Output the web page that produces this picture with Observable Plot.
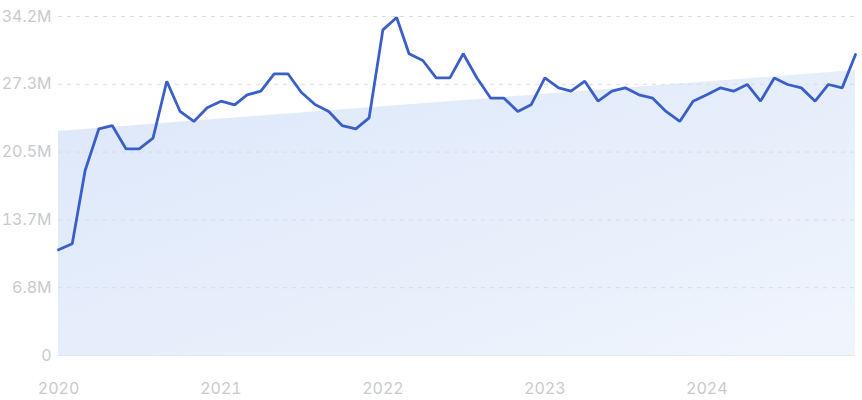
<!DOCTYPE html>
<html>
<head>
<meta charset="utf-8">
<script src="https://cdn.jsdelivr.net/npm/d3@7"></script>
<script src="https://cdn.jsdelivr.net/npm/@observablehq/plot@0.6"></script>
<style>
  html, body { margin: 0; padding: 0; background: #ffffff; }
  #chart { width: 862px; height: 400px; }
</style>
</head>
<body>
<div id="chart"></div>
<script>
// Monthly values, Jan 2020 .. Dec 2024 (millions)
const startMonth = "2020-01";
const values = [
  10.66, 11.27, 18.66, 22.87, 23.2, 20.85, 20.85, 21.93, 27.67, 24.62, 23.61, 24.99,
  25.66, 25.29, 26.3, 26.67, 28.42, 28.42, 26.56, 25.32, 24.62, 23.2, 22.87, 23.98,
  32.85, 34.1, 30.44, 29.76, 28.01, 28.01, 30.44, 28.0, 25.96, 25.96, 24.62, 25.29,
  28.0, 27.0, 26.67, 27.67, 25.66, 26.67, 27.0, 26.3, 25.96, 24.62, 23.61, 25.66,
  26.3, 27.0, 26.67, 27.34, 25.66, 28.0, 27.34, 27.0, 25.66, 27.34, 27.0, 30.37
];
// Trend band endpoints (millions), first and last month
const trendValues = [22.6, 28.75];
// Y ticks and labels
const yTickValues = [0, 6.84, 13.68, 20.52, 27.36, 34.2];
const yTickLabels = ["0", "6.8M", "13.7M", "20.5M", "27.3M", "34.2M"];
const xTickYears = [2020, 2021, 2022, 2023, 2024];

const t0 = new Date(startMonth + "-01T00:00:00Z");
const data = values.map((v, i) => ({
  date: new Date(Date.UTC(t0.getUTCFullYear(), t0.getUTCMonth() + i, 1)),
  value: v * 1e6
}));
const first = data[0].date, last = data[data.length - 1].date;
const trend = [
  {date: first, value: trendValues[0] * 1e6},
  {date: last, value: trendValues[1] * 1e6}
];
const yTicks = yTickValues.map(v => v * 1e6);
const labelMap = new Map(yTicks.map((v, i) => [v, yTickLabels[i]]));

const chart = Plot.plot({
  width: 862,
  height: 400,
  marginLeft: 58,
  marginRight: 7,
  marginTop: 16,
  marginBottom: 45,
  style: {fontFamily: "Inter, 'Noto Sans', sans-serif", fontSize: "16px", background: "#ffffff"},
  x: {type: "utc", domain: [first, last], label: null},
  y: {domain: [0, 34.2e6], label: null},
  marks: [
    Plot.areaY(trend, {x: "date", y: "value", fill: "url(#trendGrad)"}),
    Plot.ruleY(yTicks.filter(v => v > 0), {stroke: "#d9dde4", strokeDasharray: "4,5", strokeWidth: 1}),
    Plot.ruleY([0], {stroke: "#e3e7ee", strokeWidth: 1}),
    Plot.lineY(data, {x: "date", y: "value", stroke: "#3a5fc8", strokeWidth: 2.8, strokeLinejoin: "miter", strokeLinecap: "round"}),
    Plot.axisY({ticks: yTicks, tickSize: 0, tickPadding: 7, tickFormat: d => labelMap.get(d), fill: "#c8cacf", fontSize: 16, label: null}),
    Plot.axisX({ticks: xTickYears.map(y => new Date(Date.UTC(y, 0, 1))), tickSize: 0, tickPadding: 27, tickFormat: d3.utcFormat("%Y"), fill: "#c8cacf", fontSize: 16, label: null})
  ]
});

const ns = "http://www.w3.org/2000/svg";
const defs = document.createElementNS(ns, "defs");
defs.innerHTML = `<linearGradient id="trendGrad" x1="0" y1="0" x2="1" y2="1">
  <stop offset="0" stop-color="#dce7f9"/>
  <stop offset="1" stop-color="#f0f5fd"/>
</linearGradient>`;
chart.insertBefore(defs, chart.firstChild);
document.getElementById("chart").appendChild(chart);
</script>
</body>
</html>
